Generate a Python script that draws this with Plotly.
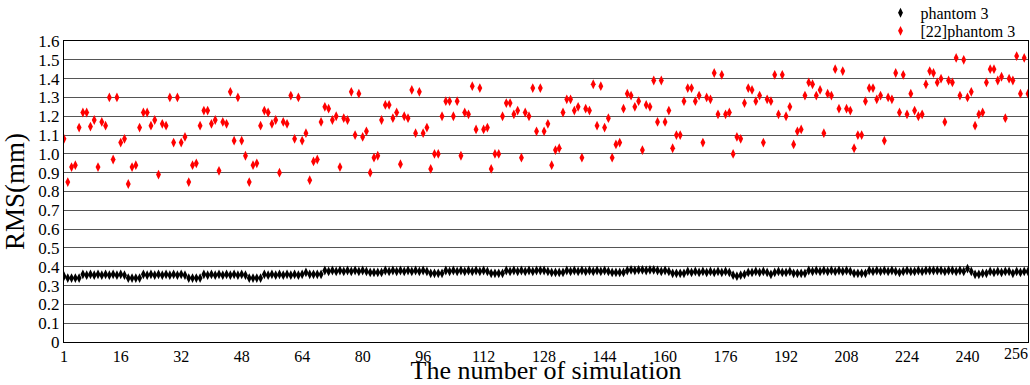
import plotly.graph_objects as go

sim_index = list(range(1, 257))

phantom3 = [
    0.35, 0.34, 0.34, 0.34, 0.34, 0.36, 0.355, 0.36, 0.355, 0.36, 0.355, 0.36, 0.355, 0.36, 0.355, 0.36,
    0.355, 0.34, 0.34, 0.34, 0.34, 0.36, 0.355, 0.36, 0.355, 0.36, 0.355, 0.36, 0.355, 0.36, 0.355, 0.36,
    0.355, 0.34, 0.34, 0.34, 0.34, 0.36, 0.355, 0.36, 0.355, 0.36, 0.355, 0.36, 0.355, 0.36, 0.355, 0.36,
    0.355, 0.34, 0.34, 0.34, 0.34, 0.36, 0.355, 0.36, 0.355, 0.36, 0.355, 0.36, 0.355, 0.36, 0.355, 0.36,
    0.37, 0.36, 0.36, 0.36, 0.36, 0.38, 0.375, 0.38, 0.375, 0.38, 0.375, 0.38, 0.375, 0.38, 0.375, 0.38,
    0.375, 0.37, 0.37, 0.37, 0.37, 0.38, 0.375, 0.38, 0.375, 0.38, 0.375, 0.38, 0.375, 0.38, 0.375, 0.38,
    0.375, 0.365, 0.365, 0.365, 0.365, 0.38, 0.375, 0.38, 0.375, 0.38, 0.375, 0.38, 0.375, 0.38, 0.375, 0.38,
    0.375, 0.365, 0.365, 0.365, 0.365, 0.38, 0.375, 0.38, 0.375, 0.38, 0.375, 0.38, 0.375, 0.38, 0.38, 0.38,
    0.375, 0.37, 0.37, 0.37, 0.37, 0.38, 0.375, 0.38, 0.375, 0.38, 0.375, 0.38, 0.375, 0.38, 0.375, 0.38,
    0.375, 0.37, 0.37, 0.37, 0.37, 0.38, 0.383, 0.38, 0.383, 0.383, 0.38, 0.383, 0.383, 0.38, 0.375, 0.38,
    0.375, 0.365, 0.365, 0.365, 0.365, 0.375, 0.37, 0.375, 0.37, 0.375, 0.37, 0.375, 0.37, 0.375, 0.37, 0.375,
    0.37, 0.355, 0.35, 0.355, 0.36, 0.37, 0.37, 0.375, 0.37, 0.375, 0.37, 0.36, 0.37, 0.375, 0.37, 0.37,
    0.375, 0.365, 0.365, 0.365, 0.365, 0.38, 0.375, 0.38, 0.375, 0.38, 0.375, 0.38, 0.375, 0.38, 0.375, 0.38,
    0.375, 0.365, 0.365, 0.365, 0.365, 0.38, 0.375, 0.38, 0.375, 0.38, 0.375, 0.38, 0.375, 0.37, 0.375, 0.38,
    0.375, 0.375, 0.38, 0.375, 0.38, 0.38, 0.38, 0.38, 0.38, 0.375, 0.38, 0.38, 0.375, 0.38, 0.375, 0.39,
    0.375, 0.36, 0.36, 0.365, 0.365, 0.375, 0.37, 0.375, 0.37, 0.375, 0.375, 0.365, 0.375, 0.37, 0.375, 0.375,
]

ref22_phantom3 = [
    1.08, 0.85, 0.93, 0.94, 1.14, 1.22, 1.22, 1.145, 1.18, 0.93, 1.17, 1.15, 1.30, 0.97, 1.30, 1.06,
    1.08, 0.84, 0.93, 0.94, 1.14, 1.22, 1.22, 1.15, 1.18, 0.89, 1.16, 1.15, 1.30, 1.06, 1.30, 1.06,
    1.09, 0.85, 0.94, 0.95, 1.15, 1.23, 1.23, 1.16, 1.18, 0.91, 1.17, 1.16, 1.33, 1.07, 1.30, 1.07,
    0.99, 0.85, 0.94, 0.95, 1.15, 1.23, 1.22, 1.16, 1.18, 0.90, 1.17, 1.16, 1.31, 1.08, 1.30, 1.07,
    1.11, 0.86, 0.96, 0.97, 1.17, 1.25, 1.24, 1.18, 1.20, 0.93, 1.19, 1.18, 1.33, 1.10, 1.32, 1.09,
    1.12, 0.90, 0.98, 0.99, 1.18, 1.26, 1.26, 1.19, 1.22, 0.945, 1.20, 1.19, 1.34, 1.11, 1.33, 1.11,
    1.14, 0.92, 1.00, 1.00, 1.20, 1.28, 1.28, 1.20, 1.28, 0.99, 1.22, 1.21, 1.36, 1.13, 1.35, 1.13,
    1.14, 0.92, 1.00, 1.00, 1.20, 1.27, 1.27, 1.21, 1.23, 0.98, 1.22, 1.20, 1.35, 1.12, 1.35, 1.12,
    1.16, 0.94, 1.02, 1.03, 1.22, 1.29, 1.29, 1.23, 1.25, 0.98, 1.24, 1.23, 1.37, 1.15, 1.36, 1.14,
    1.19, 0.98, 1.05, 1.06, 1.24, 1.32, 1.31, 1.25, 1.28, 1.02, 1.26, 1.25, 1.39, 1.17, 1.39, 1.17,
    1.23, 1.03, 1.10, 1.10, 1.28, 1.35, 1.35, 1.28, 1.31, 1.06, 1.30, 1.29, 1.43, 1.21, 1.42, 1.21,
    1.22, 1.00, 1.09, 1.08, 1.27, 1.35, 1.34, 1.28, 1.31, 1.06, 1.29, 1.28, 1.42, 1.21, 1.42, 1.20,
    1.25, 1.05, 1.12, 1.13, 1.31, 1.38, 1.37, 1.31, 1.34, 1.11, 1.32, 1.31, 1.45, 1.24, 1.44, 1.24,
    1.23, 1.03, 1.10, 1.10, 1.28, 1.35, 1.35, 1.29, 1.31, 1.07, 1.30, 1.29, 1.43, 1.22, 1.42, 1.21,
    1.32, 1.23, 1.20, 1.21, 1.37, 1.44, 1.43, 1.38, 1.40, 1.17, 1.39, 1.38, 1.51, 1.31, 1.50, 1.30,
    1.33, 1.15, 1.21, 1.22, 1.38, 1.45, 1.45, 1.39, 1.41, 1.19, 1.40, 1.39, 1.52, 1.32, 1.51, 1.32,
]

x_tick_vals = [1, 16, 32, 48, 64, 80, 96, 112, 128, 144, 160, 176, 192, 208, 224, 240]
last_tick = 256
y_tick_vals = [0, 0.1, 0.2, 0.3, 0.4, 0.5, 0.6, 0.7, 0.8, 0.9, 1.0, 1.1, 1.2, 1.3, 1.4, 1.5, 1.6]
y_tick_text = ["0", "0.1", "0.2", "0.3", "0.4", "0.5", "0.6", "0.7", "0.8", "0.9",
               "1.0", "1.1", "1.2", "1.3", "1.4", "1.5", "1.6"]

serif = "Liberation Serif, Times New Roman, serif"

fig = go.Figure()
fig.add_trace(go.Scatter(
    x=sim_index, y=phantom3, mode="markers", name="phantom 3",
    marker=dict(symbol="diamond-tall", size=7, color="black"),
    legend="legend",
))
fig.add_trace(go.Scatter(
    x=sim_index, y=ref22_phantom3, mode="markers", name="[22]phantom 3",
    marker=dict(symbol="diamond-tall", size=7, color="red"),
    legend="legend2",
))

legend_common = dict(xanchor="left", yanchor="top",
                     font=dict(family=serif, size=16, color="black"),
                     bgcolor="rgba(0,0,0,0)", itemsizing="trace", itemwidth=30)

fig.update_layout(
    width=1030, height=385,
    margin=dict(l=64, r=2, t=41, b=43, autoexpand=False),
    paper_bgcolor="white", plot_bgcolor="white",
    font=dict(family=serif, color="black"),
    showlegend=True,
    legend=dict(x=0.847, y=1.150, **legend_common),
    legend2=dict(x=0.847, y=1.090, **legend_common),
    annotations=[dict(
        x=last_tick, y=0, xref="x", yref="paper", text=str(last_tick),
        showarrow=False, xanchor="right", yanchor="top", xshift=2, yshift=-1,
        font=dict(family=serif, size=16, color="black"),
    )],
)
fig.update_xaxes(
    range=[1, 256], tickmode="array", tickvals=x_tick_vals,
    tickfont=dict(family=serif, size=16), showgrid=False, zeroline=False,
    showline=True, linecolor="black", linewidth=1, mirror=True,
    ticks="", ticklen=0,
    title=dict(text="The number of simulation", font=dict(family=serif, size=26), standoff=2),
)
fig.update_yaxes(
    range=[0, 1.6], tickmode="array", tickvals=y_tick_vals, ticktext=y_tick_text,
    tickfont=dict(family=serif, size=17), showgrid=True, gridcolor="#555555", gridwidth=1,
    zeroline=False, showline=True, linecolor="black", linewidth=1, mirror=True,
    ticks="", ticklen=0,
    title=dict(text="RMS(mm)", font=dict(family=serif, size=27), standoff=10),
)

fig.write_html(
    "out.html",
    config={"displayModeBar": False},
    post_script=(
        "document.documentElement.style.margin='0';"
        "document.body.style.margin='0';"
        "document.documentElement.style.overflow='hidden';"
        "document.body.style.overflow='hidden';"
    ),
)
